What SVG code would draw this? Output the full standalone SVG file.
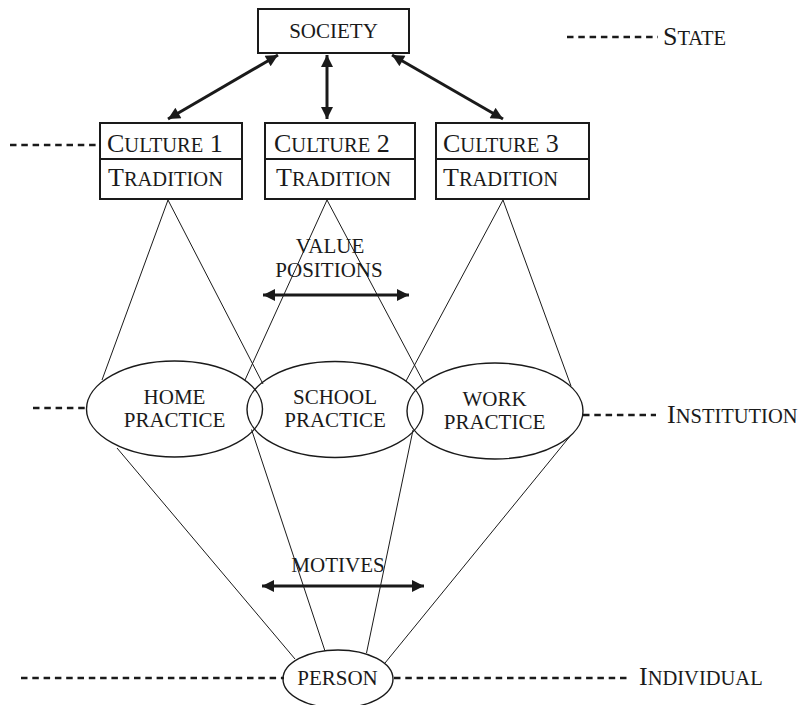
<svg xmlns="http://www.w3.org/2000/svg" width="801" height="705" viewBox="0 0 801 705">
<defs>
<marker id="ah" viewBox="0 0 10 10" refX="10" refY="5" markerWidth="14" markerHeight="12" markerUnits="userSpaceOnUse" orient="auto-start-reverse">
<path d="M0,0 L10,5 L0,10 Z" fill="#1a1a1a"/>
</marker>
<style>
.box{fill:#fff;stroke:#1a1a1a;stroke-width:2}
.ell{fill:none;stroke:#1a1a1a;stroke-width:1.4}
.thin{stroke:#1a1a1a;stroke-width:1;fill:none}
.arr{stroke:#1a1a1a;stroke-width:3;fill:none;marker-start:url(#ah);marker-end:url(#ah)}
.dash{stroke:#1a1a1a;stroke-width:2.3;stroke-dasharray:6.5 4.8;fill:none}
text{font-family:"Liberation Serif","Times New Roman",serif;fill:#1a1a1a}
.big{font-size:26px}
.sc{font-size:20.5px}
.lbl{font-size:21px}
</style>
</defs>
<rect width="801" height="705" fill="#fff"/>

<g id="connectors">
<line class="thin" x1="168" y1="200" x2="102" y2="380"/>
<line class="thin" x1="168" y1="200" x2="263" y2="384"/>
<line class="thin" x1="327" y1="200" x2="245" y2="380"/>
<line class="thin" x1="327" y1="200" x2="424" y2="383"/>
<line class="thin" x1="503" y1="200" x2="406" y2="381"/>
<line class="thin" x1="503" y1="200" x2="571" y2="386"/>
<line class="thin" x1="117" y1="448" x2="295" y2="659"/>
<line class="thin" x1="251.5" y1="429.5" x2="325" y2="651"/>
<line class="thin" x1="413" y1="430" x2="366.5" y2="653"/>
<line class="thin" x1="571" y1="435" x2="385" y2="663"/>
<line class="arr" x1="278" y1="55" x2="168" y2="119"/>
<line class="arr" x1="327" y1="55" x2="327" y2="119"/>
<line class="arr" x1="392" y1="55" x2="503" y2="119"/>
<line class="arr" x1="263" y1="295" x2="409" y2="295"/>
<line class="arr" x1="262" y1="586" x2="424" y2="586"/>
<line class="dash" x1="567" y1="37" x2="658" y2="37"/>
<line class="dash" x1="10" y1="145" x2="108" y2="145"/>
<line class="dash" x1="33" y1="408" x2="87" y2="408"/>
<line class="dash" x1="583" y1="415" x2="656" y2="415"/>
<line class="dash" x1="21" y1="678" x2="284" y2="678"/>
<line class="dash" x1="394" y1="678" x2="628" y2="678"/>
</g>

<g id="society">
<rect class="box" x="258" y="9" width="151" height="44"/>
<text class="lbl" x="333.5" y="38" text-anchor="middle">SOCIETY</text>
</g>

<g id="state">
<text x="663" y="45"><tspan class="big">S</tspan><tspan class="sc">TATE</tspan></text>
</g>

<g id="culture1">
<rect class="box" x="100" y="123" width="142" height="76"/>
<line class="box" x1="100" y1="159" x2="242" y2="159"/>
<text x="107" y="152"><tspan class="big">C</tspan><tspan class="sc">ULTURE</tspan><tspan class="big"> 1</tspan></text>
<text x="108" y="186"><tspan class="big">T</tspan><tspan class="sc">RADITION</tspan></text>
</g>

<g id="culture2">
<rect class="box" x="265" y="123" width="150" height="76"/>
<line class="box" x1="265" y1="159" x2="415" y2="159"/>
<text x="274" y="152"><tspan class="big">C</tspan><tspan class="sc">ULTURE</tspan><tspan class="big"> 2</tspan></text>
<text x="276" y="186"><tspan class="big">T</tspan><tspan class="sc">RADITION</tspan></text>
</g>

<g id="culture3">
<rect class="box" x="436" y="123" width="153" height="76"/>
<line class="box" x1="436" y1="159" x2="589" y2="159"/>
<text x="443" y="152"><tspan class="big">C</tspan><tspan class="sc">ULTURE</tspan><tspan class="big"> 3</tspan></text>
<text x="443" y="186"><tspan class="big">T</tspan><tspan class="sc">RADITION</tspan></text>
</g>

<g id="value-positions">
<text class="lbl" x="330" y="253" text-anchor="middle">VALUE</text>
<text class="lbl" x="329" y="277" text-anchor="middle">POSITIONS</text>
</g>

<g id="home">
<ellipse class="ell" cx="174.5" cy="409" rx="88" ry="48"/>
<text class="lbl" x="174.5" y="404" text-anchor="middle">HOME</text>
<text class="lbl" x="174.5" y="427" text-anchor="middle">PRACTICE</text>
</g>

<g id="school">
<ellipse class="ell" cx="335" cy="409.5" rx="88" ry="48"/>
<text class="lbl" x="335" y="404" text-anchor="middle">SCHOOL</text>
<text class="lbl" x="335" y="427" text-anchor="middle">PRACTICE</text>
</g>

<g id="work">
<ellipse class="ell" cx="495" cy="411" rx="88" ry="48"/>
<text class="lbl" x="494.5" y="406" text-anchor="middle">WORK</text>
<text class="lbl" x="494.5" y="429" text-anchor="middle">PRACTICE</text>
</g>

<g id="institution">
<text x="667" y="423"><tspan class="big">I</tspan><tspan class="sc">NSTITUTION</tspan></text>
</g>

<g id="motives">
<text class="lbl" x="338" y="572" text-anchor="middle">MOTIVES</text>
</g>

<g id="person">
<ellipse class="ell" cx="338" cy="679" rx="55" ry="29"/>
<text class="lbl" x="337.5" y="685" text-anchor="middle">PERSON</text>
</g>

<g id="individual">
<text x="639" y="685"><tspan class="big">I</tspan><tspan class="sc">NDIVIDUAL</tspan></text>
</g>
</svg>
